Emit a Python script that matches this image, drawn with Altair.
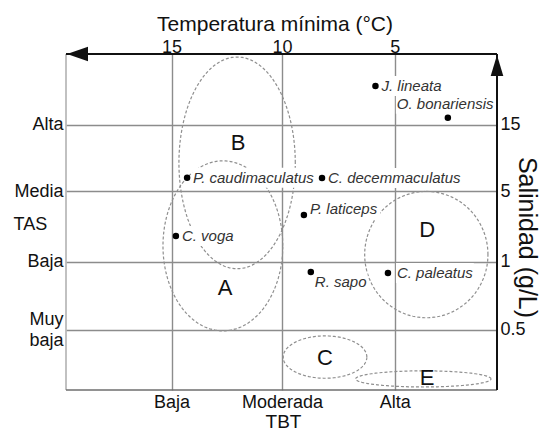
import altair as alt
import pandas as pd
import numpy as np

# ---------------- data ----------------
species = ["J. lineata", "O. bonariensis", "P. caudimaculatus", "C. decemmaculatus",
           "P. laticeps", "C. voga", "R. sapo", "C. paleatus"]
sp_x = [71.8, 88.6, 28.1, 59.4, 55.2, 25.5, 56.8, 74.7]
sp_y = [90.5, 81.0, 63.2, 63.1, 52.1, 45.8, 35.1, 34.8]

groups = ["A", "B", "C", "D", "E"]
grp_cx = [36.4, 39.7, 60.1, 83.6, 82.9]
grp_cy = [42.9, 67.6, 9.8, 40.3, 3.3]
grp_rx = [13.9, 13.5, 9.7, 14.3, 15.7]
grp_ry = [25.3, 31.5, 6.3, 18.8, 2.4]
grp_lx = [36.9, 39.9, 60.1, 83.8, 83.8]
grp_ly = [30.4, 73.5, 9.5, 47.6, 3.6]

x_levels = [24.5, 50.1, 76.3]
temp_labels = ["15", "10", "5"]
tbt_labels = ["Baja", "Moderada", "Alta"]

y_levels = [17.9, 38.1, 59.2, 78.9]
sal_labels = ["0.5", "1", "5", "15"]
tas_labels = ["Muy baja", "Baja", "Media", "Alta"]

# ---------------- layout / style ----------------
W, H = 431, 336
PXX, PXY = W / 100.0, H / 100.0
FONT = "Liberation Sans"
LAB_FS = 15
LINE_H = 21
lab_dx = [6, -51, 6, 6, 6, 6, 4, 9]      # label offsets (px) from the dot
lab_dy = [0, -14, 0, 0, -6, 0, 10, 0]

AW = {"C": 722, "J": 500, "O": 778, "P": 667, "R": 722, ".": 278, " ": 278,
      "a": 556, "b": 556, "c": 500, "d": 556, "e": 556, "g": 556, "i": 222,
      "l": 222, "m": 833, "n": 556, "o": 556, "p": 556, "r": 333, "s": 500,
      "t": 278, "u": 556, "v": 500}


def text_w(s, fs):
    return sum(AW.get(c, 556) for c in s) * fs / 1000.0


xs = alt.Scale(domain=[0, 100], nice=False, zero=False)
ys = alt.Scale(domain=[0, 100], nice=False, zero=False)

pts = pd.DataFrame({"name": species, "x": sp_x, "y": sp_y})
pts["lx"] = [x + dx / PXX for x, dx in zip(sp_x, lab_dx)]
pts["ly"] = [y - dy / PXY for y, dy in zip(sp_y, lab_dy)]
pts["bx1"] = pts["lx"] - 1 / PXX
pts["bx2"] = [lx + (text_w(n, LAB_FS) + 1) / PXX for lx, n in zip(pts["lx"], species)]
pts["by1"] = pts["ly"] - 10 / PXY
pts["by2"] = pts["ly"] + 10 / PXY

rows = []
t = np.linspace(0, 2 * np.pi, 145)
for g, cx, cy, rx, ry in zip(groups, grp_cx, grp_cy, grp_rx, grp_ry):
    for i, tt in enumerate(t):
        rows.append({"g": g, "o": i, "x": cx + rx * np.cos(tt), "y": cy + ry * np.sin(tt)})
ell = pd.DataFrame(rows)

grp = pd.DataFrame({"g": groups, "x": grp_lx, "y": grp_ly})


def lookup_expr(vals, labels, split=False):
    arr = "[" + ",".join("'" + s + "'" for s in labels) + "]"
    idx = "indexof([" + ",".join(str(v) for v in vals) + "], datum.value)"
    e = arr + "[" + idx + "]"
    return "split(" + e + ", ' ')" if split else e


left_expr = lookup_expr(y_levels, tas_labels, split=True)

top_axis = alt.Axis(orient="top", values=x_levels, labelExpr=lookup_expr(x_levels, temp_labels),
                    grid=True, gridColor="#8c8c8c", gridWidth=1.4, domain=False, ticks=False,
                    labelFont=FONT, labelFontSize=18, labelColor="#111", labelAngle=0,
                    labelPadding=1.5, labelBaseline="alphabetic", labelFlush=False,
                    labelOverlap=False, title="Temperatura mínima (°C)", titleFont=FONT,
                    titleFontSize=21, titleFontWeight="normal", titleColor="#111",
                    titleX=208.5, titleY=-24, titleAlign="center", titleBaseline="alphabetic")
bottom_axis = alt.Axis(orient="bottom", values=x_levels, labelExpr=lookup_expr(x_levels, tbt_labels),
                       grid=False, domain=False, ticks=False, labelFont=FONT, labelFontSize=18,
                       labelColor="#111", labelAngle=0, labelPadding=17, labelBaseline="alphabetic",
                       labelFlush=False, labelOverlap=False, title="TBT", titleFont=FONT,
                       titleFontSize=19, titleFontWeight="normal", titleColor="#111",
                       titleX=217, titleY=37, titleAlign="center", titleBaseline="alphabetic")
right_axis = alt.Axis(orient="right", values=y_levels, labelExpr=lookup_expr(y_levels, sal_labels),
                      grid=True, gridColor="#8c8c8c", gridWidth=1.4, domain=False, ticks=False,
                      labelFont=FONT, labelFontSize=18, labelColor="#111", labelPadding=3,
                      labelAlign="left", labelBaseline="middle", labelFlush=False,
                      labelOverlap=False, title="Salinidad (g/L)", titleFont=FONT,
                      titleFontSize=25, titleFontWeight="normal", titleColor="#111",
                      titleAngle=90, titleX=21, titleY=183, titleAlign="center",
                      titleBaseline="alphabetic")
left_axis = alt.Axis(orient="left", values=y_levels, labelExpr=left_expr,
                     grid=False, domain=False, ticks=False, labelFont=FONT, labelFontSize=18,
                     labelColor="#111", labelPadding=3, labelAlign="right", labelBaseline="middle",
                     labelLineHeight=LINE_H,
                     labelOffset={"condition": {"test": "length(" + left_expr + ") > 1",
                                                "value": -LINE_H / 2},
                                  "value": 0},
                     labelFlush=False, labelOverlap=False, title="TAS",
                     titleFont=FONT, titleFontSize=18, titleFontWeight="normal", titleColor="#111",
                     titleAngle=0, titleX=-53, titleY=170, titleAlign="left",
                     titleBaseline="middle")

ellipses = alt.Chart(ell).mark_line(color="#8f8f8f", strokeWidth=1.2, strokeDash=[3, 2]).encode(
    x=alt.X("x:Q", scale=xs, axis=top_axis),
    y=alt.Y("y:Q", scale=ys, axis=right_axis),
    detail="g:N",
    order="o:Q",
)

frame = pd.DataFrame({"x": [0.0], "x2": [100.0], "y": [0.0], "y2": [100.0]})
left_line = alt.Chart(frame).mark_rule(color="#adadad", strokeWidth=1.5).encode(
    x=alt.X("x:Q", scale=xs, axis=None), y=alt.Y("y:Q", scale=ys, axis=None), y2="y2:Q")
bottom_line = alt.Chart(frame).mark_rule(color="#6e6e6e", strokeWidth=1.5).encode(
    x=alt.X("x:Q", scale=xs, axis=None), x2="x2:Q", y=alt.Y("y:Q", scale=ys, axis=None))
top_line = alt.Chart(frame).mark_rule(color="#111", strokeWidth=2).encode(
    x=alt.X("x:Q", scale=xs, axis=None), x2="x2:Q", y=alt.Y("y2:Q", scale=ys, axis=None))
right_line = alt.Chart(frame).mark_rule(color="#111", strokeWidth=2).encode(
    x=alt.X("x2:Q", scale=xs, axis=None), y=alt.Y("y:Q", scale=ys, axis=None), y2="y2:Q")
left_arrow = alt.Chart(frame).mark_point(shape="M-1,0L1,-0.7L1,0.7Z", filled=True, size=441,
                                         color="#111", opacity=1, xOffset=11.5).encode(
    x=alt.X("x:Q", scale=xs, axis=None), y=alt.Y("y2:Q", scale=ys, axis=None))
up_arrow = alt.Chart(frame).mark_point(shape="M0,-1L0.6,1L-0.6,1Z", filled=True, size=441,
                                       color="#111", opacity=1, yOffset=11.5).encode(
    x=alt.X("x2:Q", scale=xs, axis=None), y=alt.Y("y2:Q", scale=ys, axis=None))

boxes = alt.Chart(pts).mark_rect(color="white").encode(
    x=alt.X("bx1:Q", scale=xs, axis=None), x2="bx2:Q",
    y=alt.Y("by1:Q", scale=ys, axis=None), y2="by2:Q")

dots = alt.Chart(pts).mark_circle(color="black", size=42, opacity=1).encode(
    x=alt.X("x:Q", scale=xs, axis=bottom_axis),
    y=alt.Y("y:Q", scale=ys, axis=left_axis))

labels = alt.Chart(pts).mark_text(font=FONT, fontSize=LAB_FS, fontStyle="italic", color="#333",
                                  align="left", baseline="middle").encode(
    x=alt.X("lx:Q", scale=xs, axis=None), y=alt.Y("ly:Q", scale=ys, axis=None), text="name:N")

letters = alt.Chart(grp).mark_text(font=FONT, fontSize=22, color="#111", align="center",
                                   baseline="middle").encode(
    x=alt.X("x:Q", scale=xs, axis=None), y=alt.Y("y:Q", scale=ys, axis=None), text="g:N")

chart = alt.layer(
    ellipses, left_line, bottom_line, boxes, dots, labels, letters,
    top_line, right_line, left_arrow, up_arrow,
).resolve_axis(x="independent", y="independent").properties(
    width=W, height=H,
    padding={"left": 58, "top": 46, "right": 44, "bottom": 40},
    autosize=alt.AutoSizeParams(type="none"),
).configure_view(strokeWidth=0)

chart.save("out.html", embed_options={"renderer": "svg", "actions": False})
